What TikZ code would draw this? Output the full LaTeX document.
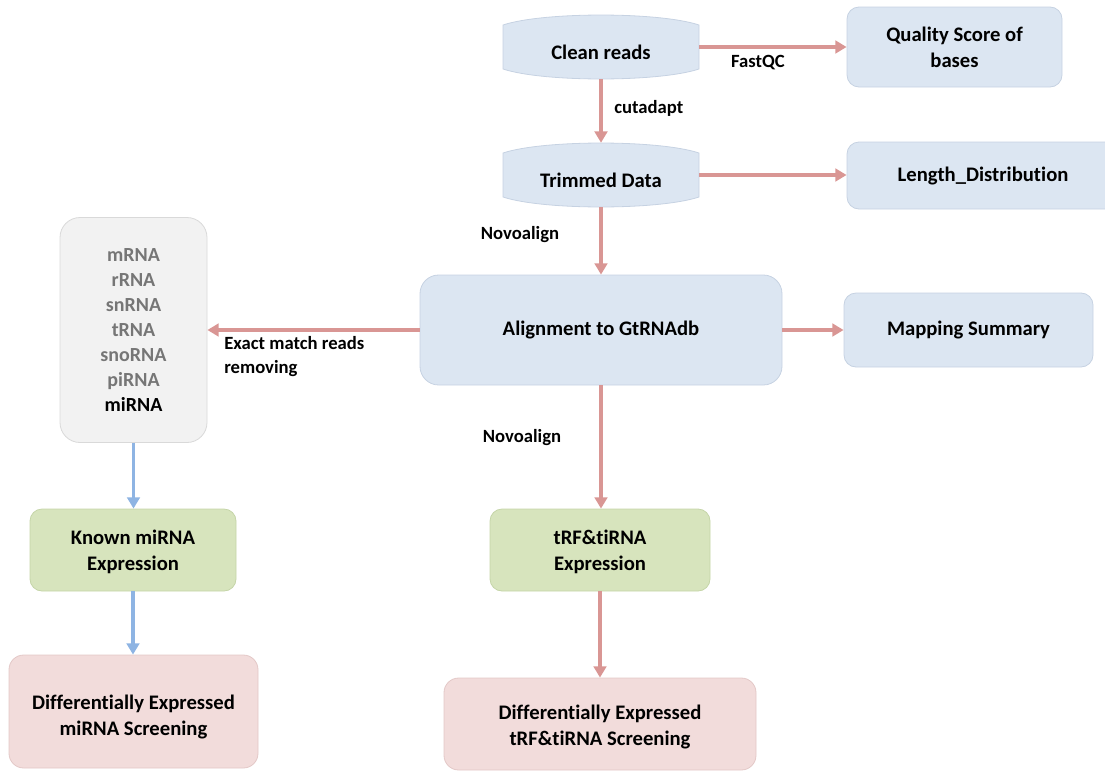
\documentclass[tikz,border=0pt]{standalone}
\usepackage{fontspec}
\setmainfont[Ligatures=NoCommon]{Carlito}
\usetikzlibrary{arrows.meta}
\definecolor{bluefill}{HTML}{DCE6F2}
\definecolor{blueline}{HTML}{C6D2E2}
\definecolor{grayfill}{HTML}{F2F2F2}
\definecolor{grayline}{HTML}{D9D9D9}
\definecolor{greenfill}{HTML}{D7E4BD}
\definecolor{greenline}{HTML}{C5D5A8}
\definecolor{pinkfill}{HTML}{F2DCDB}
\definecolor{pinkline}{HTML}{E3C8C7}
\definecolor{redarrow}{HTML}{D99694}
\definecolor{bluearrow}{HTML}{8EB4E3}
\definecolor{rnagray}{HTML}{767676}
\begin{document}
\begin{tikzpicture}[x=0.75pt,y=-0.75pt,
  txt/.style={align=center,font=\fontsize{15.5}{19.5}\selectfont\bfseries,inner sep=0pt},
  lbl/.style={align=left,font=\fontsize{14}{18}\selectfont\bfseries,inner sep=0pt},
  bluebox/.style={txt,rectangle,rounded corners=9pt,fill=bluefill,draw=blueline,line width=0.6pt},
  greenbox/.style={txt,rectangle,rounded corners=9pt,fill=greenfill,draw=greenline,line width=0.6pt},
  pinkbox/.style={txt,rectangle,rounded corners=11pt,fill=pinkfill,draw=pinkline,line width=0.6pt},
  graybox/.style={txt,rectangle,rounded corners=15pt,fill=grayfill,draw=grayline,line width=0.6pt},
  can/.style={fill=bluefill,draw=blueline,line width=0.6pt},
  redarr/.style={draw=redarrow,line width=2.6pt,-{Triangle[width=9.5pt,length=8.5pt]}},
  bluearr/.style={draw=bluearrow,line width=2.6pt,-{Triangle[width=9.5pt,length=8.5pt]}}
]
\useasboundingbox (0,0) rectangle (1105,771);
\clip (0,0) rectangle (1105,771);

% can-shaped boxes
\path[can] (503,25) .. controls (543,11.7) and (659,11.7) .. (699,25) -- (699,69)
  .. controls (659,82.3) and (543,82.3) .. (503,69) -- cycle;
\node[txt,minimum width=196*0.75pt,minimum height=64*0.75pt] (clean) at (601,47) {};
\node[txt] (cleantxt) at (601,52) {Clean reads};

\path[can] (503,153) .. controls (543,139.7) and (659,139.7) .. (699,153) -- (699,197)
  .. controls (659,210.3) and (543,210.3) .. (503,197) -- cycle;
\node[txt,minimum width=196*0.75pt,minimum height=64*0.75pt] (trim) at (601,175) {};
\node[txt] (trimtxt) at (601,180) {Trimmed Data};

% right boxes
\node[bluebox,minimum width=215*0.75pt,minimum height=80*0.75pt] (qual) at (954.5,47) {Quality Score of\\bases};
\node[bluebox,minimum width=272*0.75pt,minimum height=67*0.75pt] (len) at (983,175.5) {Length\_Distribution};
\node[bluebox,rounded corners=14pt,minimum width=362*0.75pt,minimum height=110*0.75pt] (align) at (601,330) {Alignment to GtRNAdb};
\node[bluebox,minimum width=249*0.75pt,minimum height=74*0.75pt] (map) at (968.5,330) {Mapping Summary};

% left column
\node[graybox,minimum width=147*0.75pt,minimum height=225*0.75pt,font=\fontsize{15}{18.75}\selectfont\bfseries] (rna) at (133.5,330)
  {\textcolor{rnagray}{mRNA}\\\textcolor{rnagray}{rRNA}\\\textcolor{rnagray}{snRNA}\\\textcolor{rnagray}{tRNA}\\\textcolor{rnagray}{snoRNA}\\\textcolor{rnagray}{piRNA}\\miRNA};
\node[greenbox,minimum width=206*0.75pt,minimum height=82*0.75pt] (known) at (133,550) {};
\node[txt] (knowntxt) at (133,552) {Known miRNA\\Expression};
\node[pinkbox,minimum width=249*0.75pt,minimum height=113*0.75pt] (dmi) at (133.5,711.5) {};
\node[txt] (dmitxt) at (133.5,716.5) {Differentially Expressed\\miRNA Screening};

% middle column
\node[greenbox,minimum width=220*0.75pt,minimum height=82*0.75pt] (trf) at (600,550) {};
\node[txt] (trftxt) at (600,552) {tRF\&tiRNA\\Expression};
\node[pinkbox,minimum width=312*0.75pt,minimum height=92*0.75pt] (dtrf) at (600,724) {};
\node[txt] (dtrftxt) at (600,727) {Differentially Expressed\\tRF\&tiRNA Screening};

% connectors
\draw[redarr] (clean.east) -- (clean.east -| qual.west);
\draw[redarr] (clean.south) -- (trim.north);
\draw[redarr] (trim.east) -- (trim.east -| len.west);
\draw[redarr] (trim.south) -- (align.north);
\draw[redarr] (align.west) -- (align.west -| rna.east);
\draw[redarr] (align.east) -- (align.east -| map.west);
\draw[redarr] (align.south) -- (align.south |- trf.north);
\draw[redarr] (trf.south) -- (dtrf.north);
\draw[bluearr] (rna.south) -- (rna.south |- known.north);
\draw[bluearr] (known.south) -- (known.south |- dmi.north);

% labels
\node[lbl] (fastqc) at (758,63) {FastQC};
\node[lbl,anchor=west] (cutadapt) at (614,108) {cutadapt};
\node[lbl] (novo1) at (520,235) {Novoalign};
\node[lbl,anchor=west] (exact) at (224,357) {Exact match reads\\removing};
\node[lbl] (novo2) at (522,438) {Novoalign};
\end{tikzpicture}
\end{document}
